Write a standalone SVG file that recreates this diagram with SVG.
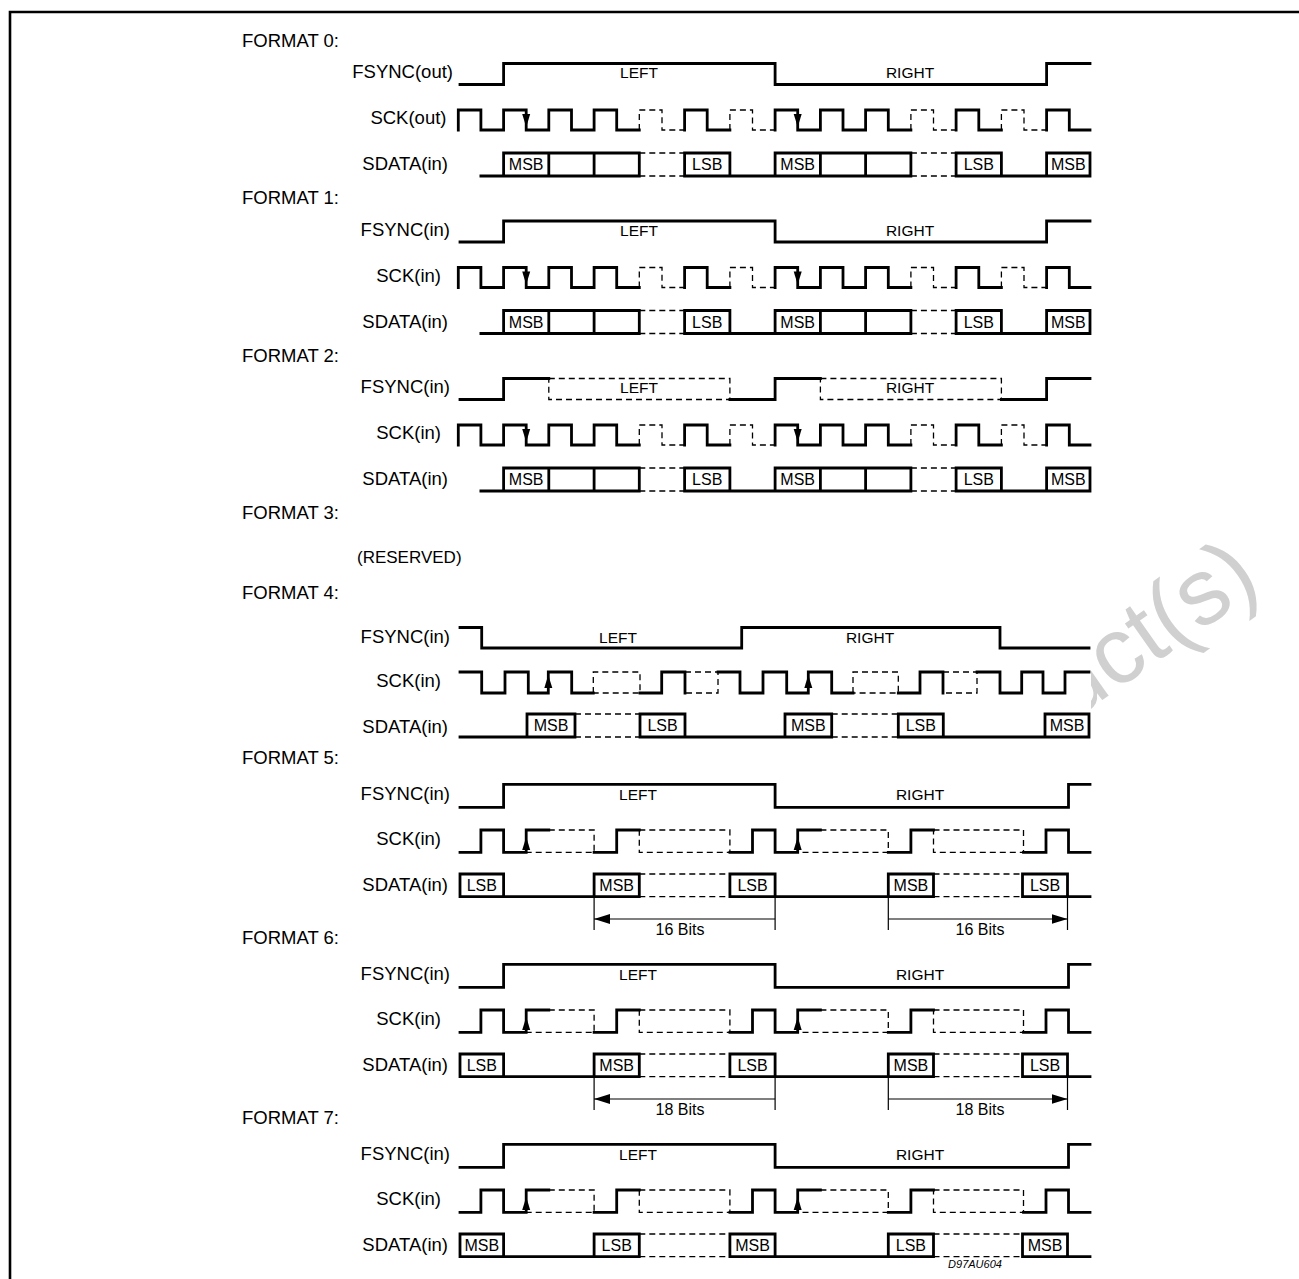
<svg xmlns="http://www.w3.org/2000/svg" xmlns:xlink="http://www.w3.org/1999/xlink" width="1299" height="1279" viewBox="0 0 1299 1279">
<style>
.w{fill:none;stroke:#000;stroke-width:2.8;stroke-linejoin:miter;stroke-linecap:square}
.d{fill:none;stroke:#000;stroke-width:1.3;stroke-dasharray:6 4}
.t{fill:none;stroke:#000;stroke-width:1.2}
.ah{fill:#000;stroke:none}
text{font-family:"Liberation Sans",Arial,Helvetica,sans-serif;fill:#000}
.ttl{font-size:18.5px}
.lbl{font-size:18.5px;text-anchor:end}
.sig{font-size:15.5px;text-anchor:middle}
.bit{font-size:16px;text-anchor:middle}
.dim{font-size:16px;text-anchor:middle}
.wm{font-size:94px;fill:#d0d0d0}
</style>
<defs>
<marker id="arr" viewBox="0 0 16 10" refX="16" refY="5" markerWidth="16" markerHeight="10" markerUnits="userSpaceOnUse" orient="auto-start-reverse"><path d="M0,0L16,5L0,10Z" fill="#000"/></marker>
<g id="fsA"><path class="w" d="M460,84.5H503.6V63.5H775.1V84.5H1046.6V63.5H1090"/></g>
<g id="clkA">
<path class="w" d="M458.3,130V110H480.9V130H503.6V110H526.2V130H548.8V110H571.5V130H594.1V110H616.7V130H639.3M684.6,130V110H707.2V130H729.9M775.1,130V110H797.7V130H820.4V110H843V130H865.6V110H888.3V130H910.9M956.1,130V110H978.8V130H1001.4M1046.6,130V110H1069.3V130H1090"/>
<path class="d" d="M639.3,130V110H662V130H684.6M729.9,130V110H752.5V130H775.1M910.9,130V110H933.5V130H956.1M1001.4,130V110H1024V130H1046.6"/>
<polygon class="ah" points="522.2,114 530.2,114 526.2,127"/>
<polygon class="ah" points="793.7,114 801.7,114 797.7,127"/>
</g>
<g id="sdA">
<path class="w" d="M480.9,176H639.3M684.6,176H910.9M956.1,176H1090M503.6,176V153H639.3V176M548.8,153V176M594.1,153V176M684.6,176V153H729.9V176M775.1,176V153H910.9V176M820.4,153V176M865.6,153V176M956.1,176V153H1001.4V176M1046.6,176V153H1090V176"/>
<path class="d" d="M639.3,153H684.6M639.3,176H684.6M910.9,153H956.1M910.9,176H956.1"/>
</g>
<g id="fsB"><path class="w" d="M460,807.3H503.6V784.3H775.1V807.3H1068.5V784.3H1090"/></g>
<g id="clkB">
<path class="w" d="M460,852.3H480.9V830H503.6V852.3H526.2V830H548.8M594.1,852.3H616.7V830H639.3M729.9,852.3H752.5V830H775.1V852.3H797.7V830H820.4M888.3,852.3H910.9V830H933.5M1023.5,852.3H1046V830H1068.5V852.3H1090"/>
<path class="d" d="M548.8,830H594.1V852.3H526.2M639.3,830H729.9V852.3H639.3ZM820.4,830H888.3V852.3H797.7M933.5,830H1023.5V852.3H933.5Z"/>
<polygon class="ah" points="522.2,850 530.2,850 526.2,837"/>
<polygon class="ah" points="793.7,850 801.7,850 797.7,837"/>
</g>
<g id="sdB">
<path class="w" d="M460,896.7H639.3M729.9,896.7H933.5M1022.5,896.7H1090M460,896.7V874H503.6V896.7M594.1,896.7V874H639.3V896.7M729.9,896.7V874H775.1V896.7M888.3,896.7V874H933.5V896.7M1022.5,896.7V874H1067.5V896.7"/>
<path class="d" d="M639.3,874H729.9M639.3,896.7H729.9M933.5,874H1022.5M933.5,896.7H1022.5"/>
</g>
<g id="dimB">
<path class="t" d="M594.1,897V930M775.1,897V930M888.3,897V930M1067.5,897V930"/>
<path class="t" d="M594.1,919H775.1M888.3,919H1067.5" marker-start="url(#arr)" marker-end="url(#arr)"/>
</g>
</defs>

<g id="watermark"><text class="wm" transform="translate(1071,722) rotate(-35)">uct(s)</text></g>
<rect x="12" y="14" width="1079" height="1226" fill="#fff"/>

<g id="frame"><path d="M10,1279V12H1299" fill="none" stroke="#000" stroke-width="2.6"/></g>

<g id="format0">
<text class="ttl" x="242" y="46.5">FORMAT 0:</text>
<text class="lbl" x="453" y="78.3">FSYNC(out)</text>
<text class="lbl" x="446.5" y="124">SCK(out)</text>
<text class="lbl" x="448" y="170">SDATA(in)</text>
<use xlink:href="#fsA"/>
<use xlink:href="#clkA"/>
<use xlink:href="#sdA"/>
<text class="sig" x="639" y="78.3">LEFT</text>
<text class="sig" x="910" y="78.3">RIGHT</text>
<text class="bit" x="526.2" y="170">MSB</text>
<text class="bit" x="707.2" y="170">LSB</text>
<text class="bit" x="797.7" y="170">MSB</text>
<text class="bit" x="978.8" y="170">LSB</text>
<text class="bit" x="1068.3" y="170">MSB</text>
</g>

<g id="format1">
<text class="ttl" x="242" y="203.5">FORMAT 1:</text>
<text class="lbl" x="450" y="235.8">FSYNC(in)</text>
<text class="lbl" x="441" y="281.5">SCK(in)</text>
<text class="lbl" x="448" y="327.5">SDATA(in)</text>
<g transform="translate(0,157.5)">
<use xlink:href="#fsA"/>
<use xlink:href="#clkA"/>
<use xlink:href="#sdA"/>
<text class="sig" x="639" y="78.3">LEFT</text>
<text class="sig" x="910" y="78.3">RIGHT</text>
<text class="bit" x="526.2" y="170">MSB</text>
<text class="bit" x="707.2" y="170">LSB</text>
<text class="bit" x="797.7" y="170">MSB</text>
<text class="bit" x="978.8" y="170">LSB</text>
<text class="bit" x="1068.3" y="170">MSB</text>
</g>
</g>

<g id="format2">
<text class="ttl" x="242" y="361.5">FORMAT 2:</text>
<text class="lbl" x="450" y="393.3">FSYNC(in)</text>
<text class="lbl" x="441" y="439">SCK(in)</text>
<text class="lbl" x="448" y="485">SDATA(in)</text>
<g transform="translate(0,315)">
<path class="w" d="M460,84.5H503.6V63.5H548.8M729.9,84.5H775.1V63.5H820.4M1001.4,84.5H1046.6V63.5H1090"/>
<path class="d" d="M548.8,63.5H729.9V84.5H548.8ZM820.4,63.5H1001.4V84.5H820.4Z"/>
<use xlink:href="#clkA"/>
<use xlink:href="#sdA"/>
<text class="sig" x="639" y="78.3">LEFT</text>
<text class="sig" x="910" y="78.3">RIGHT</text>
<text class="bit" x="526.2" y="170">MSB</text>
<text class="bit" x="707.2" y="170">LSB</text>
<text class="bit" x="797.7" y="170">MSB</text>
<text class="bit" x="978.8" y="170">LSB</text>
<text class="bit" x="1068.3" y="170">MSB</text>
</g>
</g>

<g id="format3">
<text class="ttl" x="242" y="518.5">FORMAT 3:</text>
<text class="ttl" x="357" y="562.5" style="font-size:17px">(RESERVED)</text>
</g>

<g id="format4">
<text class="ttl" x="242" y="598.5">FORMAT 4:</text>
<text class="lbl" x="450" y="642.5">FSYNC(in)</text>
<text class="lbl" x="441" y="687">SCK(in)</text>
<text class="lbl" x="448" y="733">SDATA(in)</text>
<path class="w" d="M460,627.5H481.7V648H741.7V627.5H1000V648H1089"/>
<text class="sig" x="618" y="643">LEFT</text>
<text class="sig" x="870" y="643">RIGHT</text>
<path class="w" d="M460,672H481.7V693H505V672H528.3V693H548.3V672H571.7V693H593.3M640,693H661.7V672H685V693M718,672H740V693H763V672H786.7V693H808.3V672H831.7V693H853M898.3,693H920V672H943V693M977,672H1000V693H1021.7V672H1043V693H1065V672H1089"/>
<path class="d" d="M593.3,693V672H640V693H593.3M685,672H718V693H685M853,693V672H898.3V693H853M943,672H977V693H943"/>
<polygon class="ah" points="544.3,688 552.3,688 548.3,675"/>
<polygon class="ah" points="804.3,688 812.3,688 808.3,675"/>
<path class="w" d="M460,737H575M640,737H831.7M898.3,737H1089M527,737V714H575V737M640,737V714H685V737M785,737V714H831.7V737M898.3,737V714H943.3V737M1045,737V714H1089V737"/>
<path class="d" d="M575,714H640M575,737H640M831.7,714H898.3M831.7,737H898.3"/>
<text class="bit" x="551" y="731">MSB</text>
<text class="bit" x="662.5" y="731">LSB</text>
<text class="bit" x="808.3" y="731">MSB</text>
<text class="bit" x="920.8" y="731">LSB</text>
<text class="bit" x="1067" y="731">MSB</text>
</g>

<g id="format5">
<text class="ttl" x="242" y="763.5">FORMAT 5:</text>
<text class="lbl" x="450" y="800">FSYNC(in)</text>
<text class="lbl" x="441" y="845">SCK(in)</text>
<text class="lbl" x="448" y="891">SDATA(in)</text>
<use xlink:href="#fsB"/>
<use xlink:href="#clkB"/>
<use xlink:href="#sdB"/>
<use xlink:href="#dimB"/>
<text class="sig" x="638" y="800">LEFT</text>
<text class="sig" x="920" y="800">RIGHT</text>
<text class="bit" x="481.8" y="890.5">LSB</text>
<text class="bit" x="616.7" y="890.5">MSB</text>
<text class="bit" x="752.5" y="890.5">LSB</text>
<text class="bit" x="910.9" y="890.5">MSB</text>
<text class="bit" x="1045" y="890.5">LSB</text>
<text class="dim" x="680" y="935">16 Bits</text>
<text class="dim" x="980" y="935">16 Bits</text>
</g>

<g id="format6">
<text class="ttl" x="242" y="943.5">FORMAT 6:</text>
<text class="lbl" x="450" y="980">FSYNC(in)</text>
<text class="lbl" x="441" y="1025">SCK(in)</text>
<text class="lbl" x="448" y="1071">SDATA(in)</text>
<g transform="translate(0,180)">
<use xlink:href="#fsB"/>
<use xlink:href="#clkB"/>
<use xlink:href="#sdB"/>
<use xlink:href="#dimB"/>
<text class="sig" x="638" y="800">LEFT</text>
<text class="sig" x="920" y="800">RIGHT</text>
<text class="bit" x="481.8" y="890.5">LSB</text>
<text class="bit" x="616.7" y="890.5">MSB</text>
<text class="bit" x="752.5" y="890.5">LSB</text>
<text class="bit" x="910.9" y="890.5">MSB</text>
<text class="bit" x="1045" y="890.5">LSB</text>
<text class="dim" x="680" y="935">18 Bits</text>
<text class="dim" x="980" y="935">18 Bits</text>
</g>
</g>

<g id="format7">
<text class="ttl" x="242" y="1123.5">FORMAT 7:</text>
<text class="lbl" x="450" y="1160">FSYNC(in)</text>
<text class="lbl" x="441" y="1205">SCK(in)</text>
<text class="lbl" x="448" y="1251">SDATA(in)</text>
<g transform="translate(0,360)">
<use xlink:href="#fsB"/>
<use xlink:href="#clkB"/>
<use xlink:href="#sdB"/>
<text class="sig" x="638" y="800">LEFT</text>
<text class="sig" x="920" y="800">RIGHT</text>
<text class="bit" x="481.8" y="890.5">MSB</text>
<text class="bit" x="616.7" y="890.5">LSB</text>
<text class="bit" x="752.5" y="890.5">MSB</text>
<text class="bit" x="910.9" y="890.5">LSB</text>
<text class="bit" x="1045" y="890.5">MSB</text>
</g>
<text x="975" y="1268" style="font-size:11px;font-style:italic;text-anchor:middle">D97AU604</text>
</g>
</svg>
